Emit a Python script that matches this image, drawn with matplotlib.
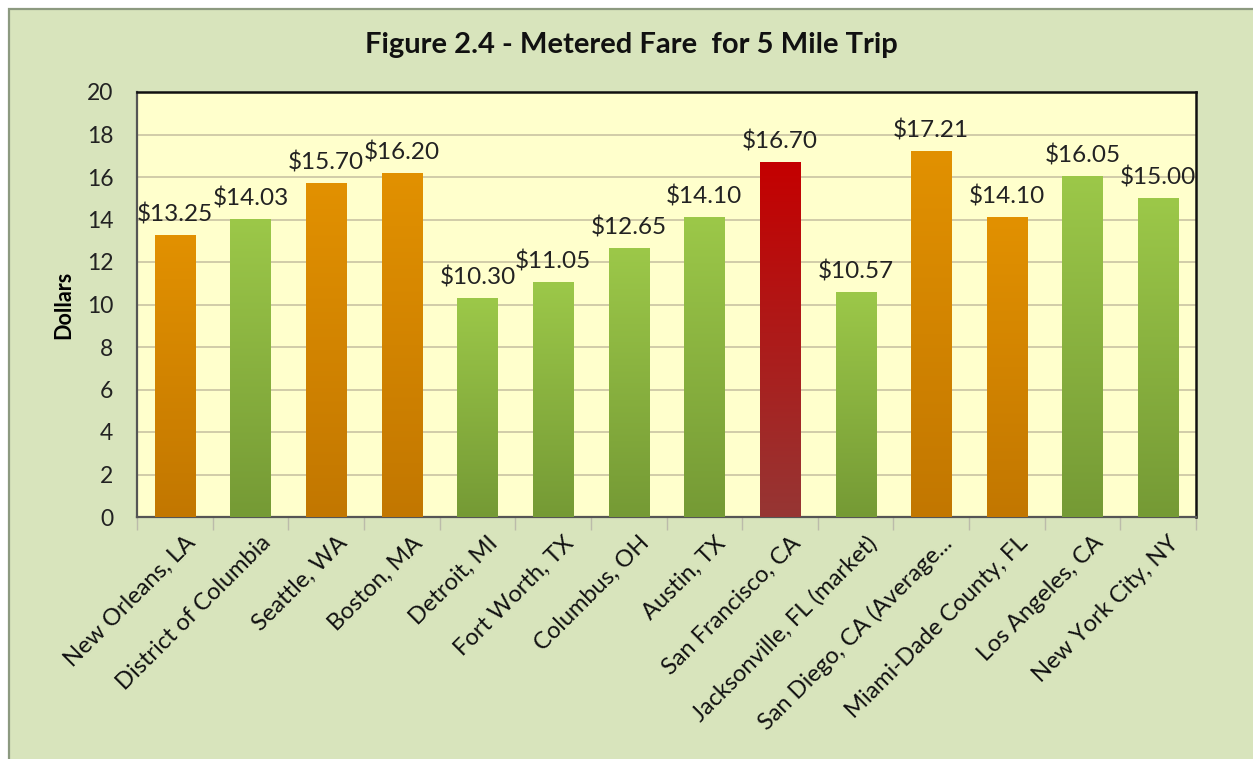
import numpy as np
import matplotlib
matplotlib.use("Agg")
import matplotlib.pyplot as plt
from matplotlib.colors import LinearSegmentedColormap
from matplotlib.patches import Rectangle
from matplotlib.transforms import ScaledTranslation

# ---- data ----
cities = ["New Orleans, LA", "District of Columbia", "Seattle, WA", "Boston, MA",
          "Detroit, MI", "Fort Worth, TX", "Columbus, OH", "Austin, TX",
          "San Francisco, CA", "Jacksonville, FL (market)", "San Diego, CA (Average...",
          "Miami-Dade County, FL", "Los Angeles, CA", "New York City, NY"]
fares = [13.25, 14.03, 15.70, 16.20, 10.30, 11.05, 12.65, 14.10,
         16.70, 10.57, 17.21, 14.10, 16.05, 15.00]
groups = ["orange", "green", "orange", "orange", "green", "green", "green", "green",
          "red", "green", "orange", "orange", "green", "green"]
yticks = [0, 2, 4, 6, 8, 10, 12, 14, 16, 18, 20]

gradients = {
    "orange": ("#E29100", "#C27700"),
    "green": ("#9CC849", "#759A35"),
    "red": ("#C40000", "#963634"),
}

FONT = "Lato"
plt.rcParams['font.family'] = [FONT, 'DejaVu Sans']

W, H = 1253, 759
fig = plt.figure(figsize=(W / 100, H / 100), dpi=100)
fig.patch.set_facecolor("white")

# outer chart frame
frame = Rectangle((9 / W, -0.05), 1.1, 1 - 9 / H + 0.05, transform=fig.transFigure,
                  facecolor="#D8E4BC", edgecolor="#8C9A80", linewidth=1.6, zorder=-5)
fig.patches.append(frame)

ax = fig.add_axes([137 / W, 1 - 517 / H, (1196 - 137) / W, (517 - 92) / H])
ax.set_zorder(2)
ax.set_facecolor("#FFFFCC")

x = np.arange(len(cities))
bars = ax.bar(x, fares, width=0.53, color="none", edgecolor="none", zorder=3)

for b, g in zip(bars, groups):
    top, bot = gradients[g]
    cmap = LinearSegmentedColormap.from_list("g", [bot, top])
    x0, y0 = b.get_x(), b.get_y()
    w, h = b.get_width(), b.get_height()
    grad = np.linspace(0, 1, 256).reshape(-1, 1)
    im = ax.imshow(grad, cmap=cmap, origin="lower", aspect="auto",
                   extent=(x0, x0 + w, y0, y0 + h), zorder=3)
    im.set_clip_path(b)

ax.set_xlim(-0.5, len(cities) - 0.5)
ax.set_ylim(0, 20)
ax.set_yticks(yticks)
ax.set_yticklabels([str(t) for t in yticks], fontsize=16.5, color="#222222")
ax.yaxis.grid(True, color="#C9C3A2", linewidth=1.2, zorder=1)
ax.set_axisbelow(True)
ax.tick_params(axis="y", length=0, pad=17)

ax.set_xticks(x)
ax.set_xticklabels(cities, rotation=45, ha="right", rotation_mode="anchor",
                   fontsize=17, color="#111111")
ax.tick_params(axis="x", length=0, pad=11)
offset = ScaledTranslation(10 / 100, 0, fig.dpi_scale_trans)
for lbl in ax.get_xticklabels():
    lbl.set_transform(lbl.get_transform() + offset)
ax.set_xticks(np.arange(-0.5, len(cities), 1), minor=True)
ax.tick_params(axis="x", which="minor", length=9, color="#BBBBAA", width=1, direction="out")

for s in ["left", "bottom"]:
    ax.spines[s].set_color("#555555")
    ax.spines[s].set_linewidth(1.6)
for s in ["top", "right"]:
    ax.spines[s].set_color("#111111")
    ax.spines[s].set_linewidth(1.8)

for xi, v in zip(x, fares):
    ax.annotate(f"${v:.2f}", (xi, v), xytext=(0, 7), textcoords="offset points",
                ha="center", va="bottom", fontsize=17.5, color="#222222", zorder=5)

ax.set_ylabel("Dollars", fontsize=15.5, fontweight="bold")
ax.yaxis.set_label_coords(-63 / (1196 - 137), 0.5)

fig.text(631 / W, 1 - 45 / H, "Figure 2.4 - Metered Fare  for 5 Mile Trip",
         ha="center", va="center", fontsize=21, fontweight="bold", color="#111111")

fig.savefig("out.png", dpi=100, facecolor=fig.get_facecolor())
